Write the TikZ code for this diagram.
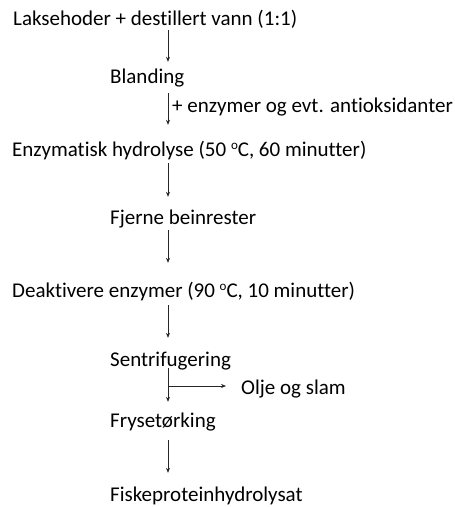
\documentclass[tikz,border=0pt]{standalone}
\usepackage{fontspec}
\setmainfont[Ligatures={NoCommon}]{Carlito}
\usetikzlibrary{arrows.meta}
\begin{document}
\begin{tikzpicture}[x=1pt,y=1pt,
  txt/.style={anchor=base west,inner sep=0pt,text height=15pt,text depth=5pt,font=\fontsize{21}{24}\selectfont},
  arr/.style={draw=black!85,line width=0.6pt,-{Stealth[length=5pt,width=4pt]}}]
\useasboundingbox (0,0) rectangle (455,-507);
\coordinate (ax) at (168,0);
\node[txt] (n1) at (13,-25) {Laksehoder + destillert vann (1:1)};
\node[txt] (n2) at (110,-83) {Blanding};
\node[txt] (lab) at (172,-112) {+ enzymer og evt. antioksidanter};
\node[txt] (n3) at (12,-156) {Enzymatisk hydrolyse (50 {\fontsize{13}{14}\selectfont\raisebox{6.5pt}{o}}C, 60 minutter)};
\node[txt] (n4) at (110,-224) {Fjerne beinrester};
\node[txt] (n5) at (12,-297) {Deaktivere enzymer (90 {\fontsize{13}{14}\selectfont\raisebox{6.5pt}{o}}C, 10 minutter)};
\node[txt] (n6) at (110,-366) {Sentrifugering};
\node[txt] (olje) at (241,-394) {Olje og slam};
\node[txt] (n7) at (110,-427) {Frysetørking};
\node[txt] (n8) at (110,-501) {Fiskeproteinhydrolysat};
\draw[arr,shorten <=0pt,shorten >=6pt] (n1.south -| ax) -- (n2.north -| ax);
\draw[arr,shorten <=5pt,shorten >=16pt] (n2.south -| ax) -- (n3.north -| ax);
\draw[arr,shorten <=2pt,shorten >=12pt] (n3.south -| ax) -- (n4.north -| ax);
\draw[arr,shorten <=1pt,shorten >=19pt] (n4.south -| ax) -- (n5.north -| ax);
\draw[arr,shorten <=3pt,shorten >=13pt] (n5.south -| ax) -- (n6.north -| ax);
\draw[arr,shorten <=-3pt,shorten >=10pt] (n6.south -| ax) -- (n7.north -| ax);
\draw[arr,shorten <=8pt,shorten >=13pt] (n7.south -| ax) -- (n8.north -| ax);
\coordinate (br) at (168,-386);
\draw[arr,shorten >=15pt] (br) -- (olje.west |- br);
\end{tikzpicture}
\end{document}
